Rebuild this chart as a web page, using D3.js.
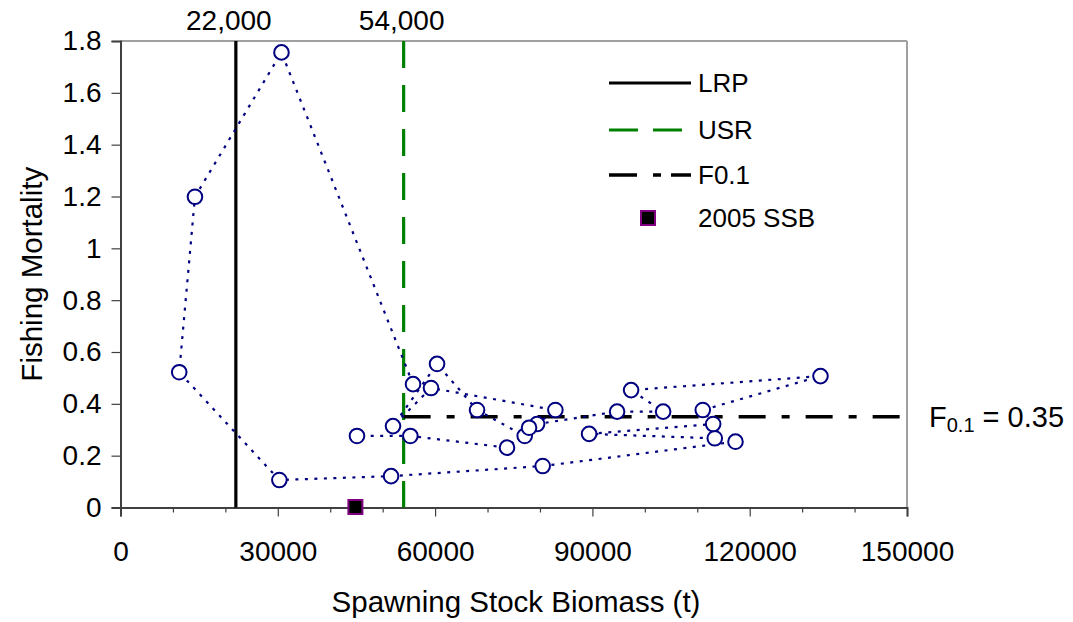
<!DOCTYPE html>
<html>
<head>
<meta charset="utf-8">
<script src="https://cdn.jsdelivr.net/npm/d3@7"></script>
<style>
  html, body { margin: 0; padding: 0; background: #fff; }
  svg { display: block; font-family: "Liberation Sans", Arial, sans-serif; }
</style>
</head>
<body>
<svg id="chart" width="1073" height="622"></svg>
<script>
// ---- Data ----
const years = [1978,1979,1980,1981,1982,1983,1984,1985,1986,1987,1988,1989,1990,1991,1992,1993,1994,1995,1996,1997,1998,1999,2000,2001,2002,2003,2004];
const ssb   = [55790,30700,14200,11200,30300,51600,80520,117290,113340,89370,113030,111050,133500,97380,103490,94710,79450,82940,59220,51970,60370,68000,77090,77920,73720,55280,45100];
const fMort = [0.476,1.756,1.199,0.522,0.106,0.121,0.160,0.254,0.267,0.284,0.322,0.376,0.507,0.453,0.370,0.370,0.322,0.376,0.461,0.314,0.554,0.376,0.276,0.308,0.231,0.276,0.276];
const ssb2005 = [44800];
const f2005 = [0];
const LRP = 22000;
const USR = 54000;
const F01 = 0.35;
const xTicks = [0, 30000, 60000, 90000, 120000, 150000];
const xMinorTicks = [10000,20000,40000,50000,70000,80000,100000,110000,130000,140000];
const yTicks = [0, 0.2, 0.4, 0.6, 0.8, 1, 1.2, 1.4, 1.6, 1.8];
const refLabels = ["22,000", "54,000"];
const legendItems = ["LRP", "USR", "F0.1", "2005 SSB"];

(function () {
// ---- Layout ----
const svg = d3.select("#chart");
const pL = 120.5, pR = 907, pT = 41, pB = 507.5;
const x = d3.scaleLinear().domain([0, 150000]).range([pL, pR]);
const y = d3.scaleLinear().domain([0, 1.8]).range([pB, pT]);
const navy = "#000080";
const FS = 28;

// frame (top & right light gray)
svg.append("line").attr("x1", pL).attr("x2", pR).attr("y1", pT).attr("y2", pT)
  .attr("stroke", "#a0a0a0").attr("stroke-width", 2);
svg.append("line").attr("x1", pR).attr("x2", pR).attr("y1", pT).attr("y2", pB)
  .attr("stroke", "#a0a0a0").attr("stroke-width", 2);

// y axis
const yAxis = d3.axisLeft(y).tickValues(yTicks).tickSize(9).tickPadding(10)
  .tickFormat(d => String(+d.toFixed(1)));
const gy = svg.append("g").attr("transform", `translate(${pL},0)`).call(yAxis);
gy.select(".domain").attr("stroke", "#404040").attr("stroke-width", 2);
gy.selectAll(".tick line").attr("stroke", "#404040").attr("stroke-width", 1.2);
gy.selectAll(".tick text").attr("font-size", FS).attr("fill", "#000")
  .attr("font-family", "Liberation Sans, Arial, sans-serif");

// x axis
const xAxis = d3.axisBottom(x).tickValues(xTicks).tickSize(9).tickPadding(25)
  .tickFormat(d3.format("d"));
const gx = svg.append("g").attr("transform", `translate(0,${pB})`).call(xAxis);
gx.select(".domain").attr("stroke", "#404040").attr("stroke-width", 2);
gx.selectAll(".tick line").attr("stroke", "#404040").attr("stroke-width", 1.2);
gx.selectAll(".tick text").attr("font-size", FS).attr("fill", "#000")
  .attr("font-family", "Liberation Sans, Arial, sans-serif");
const xMinor = d3.axisBottom(x).tickValues(xMinorTicks).tickSize(5).tickFormat("");
const gxm = svg.append("g").attr("transform", `translate(0,${pB})`).call(xMinor);
gxm.select(".domain").remove();
gxm.selectAll(".tick line").attr("stroke", "#404040").attr("stroke-width", 1.2);

// axis titles
svg.append("text").attr("x", 516).attr("y", 612)
  .attr("text-anchor", "middle").attr("font-size", 29.5).text("Spawning Stock Biomass (t)");
svg.append("text").attr("transform", `translate(42,${(pT + pB) / 2}) rotate(-90)`)
  .attr("text-anchor", "middle").attr("font-size", 29.5).text("Fishing Mortality");

// reference lines
svg.append("line").attr("x1", x(LRP)).attr("x2", x(LRP)).attr("y1", pT).attr("y2", pB)
  .attr("stroke", "#000").attr("stroke-width", 3.2);
svg.append("line").attr("x1", x(USR)).attr("x2", x(USR)).attr("y1", pT).attr("y2", pB)
  .attr("stroke", "#008000").attr("stroke-width", 3.2).attr("stroke-dasharray", "27,17");
svg.append("line").attr("x1", x(USR)).attr("x2", pR).attr("y1", y(F01)).attr("y2", y(F01))
  .attr("stroke", "#000").attr("stroke-width", 3.5).attr("stroke-dasharray", "27,16,8,16");

// reference labels on top
[LRP, USR].forEach((v, i) => {
  svg.append("text").attr("x", x(v) - (i === 0 ? 7 : 2)).attr("y", 30)
    .attr("text-anchor", "middle").attr("font-size", FS).text(refLabels[i]);
});

// F0.1 label
const fl = svg.append("text").attr("x", 929).attr("y", y(F01) + 10).attr("font-size", 29);
fl.append("tspan").text("F");
fl.append("tspan").attr("font-size", 20).attr("dy", 5).text("0.1");
fl.append("tspan").attr("dy", -5).text(" = 0.35");

// trajectory
const pts = years.map((yr, i) => ({ yr, s: ssb[i], f: fMort[i] }));
svg.append("path").datum(pts)
  .attr("d", d3.line().x(d => x(d.s)).y(d => y(d.f)))
  .attr("fill", "none").attr("stroke", navy).attr("stroke-width", 2.2)
  .attr("stroke-dasharray", "3,6.5");
svg.selectAll("circle.pt").data(pts).enter().append("circle").attr("class", "pt")
  .attr("cx", d => x(d.s)).attr("cy", d => y(d.f)).attr("r", 7.3)
  .attr("fill", "#fff").attr("stroke", navy).attr("stroke-width", 2);

// 2005 SSB square
svg.selectAll("rect.ssb").data(ssb2005).enter().append("rect").attr("class", "ssb")
  .attr("x", (d) => x(d) - 7).attr("y", (d, i) => y(f2005[i]) - 7.5)
  .attr("width", 14).attr("height", 14)
  .attr("fill", "#000").attr("stroke", "#800080").attr("stroke-width", 2);

// legend
const lx1 = 609, lx2 = 691, ltx = 698;
const ly = [83, 130, 175, 218];
const lg = svg.append("g");
lg.append("line").attr("x1", lx1).attr("x2", lx2).attr("y1", ly[0]).attr("y2", ly[0])
  .attr("stroke", "#000").attr("stroke-width", 3);
lg.append("line").attr("x1", lx1).attr("x2", lx2).attr("y1", ly[1]).attr("y2", ly[1])
  .attr("stroke", "#008000").attr("stroke-width", 3).attr("stroke-dasharray", "29,15");
lg.append("line").attr("x1", lx1).attr("x2", lx2).attr("y1", ly[2]).attr("y2", ly[2])
  .attr("stroke", "#000").attr("stroke-width", 3.5).attr("stroke-dasharray", "28,16,8,10,21");
lg.append("rect").attr("x", 648 - 7).attr("y", ly[3] - 7).attr("width", 14).attr("height", 14)
  .attr("fill", "#000").attr("stroke", "#800080").attr("stroke-width", 2);
legendItems.forEach((t, i) => {
  lg.append("text").attr("x", ltx).attr("y", ly[i] + 9).attr("font-size", 26).text(t);
});
})();
</script>
</body>
</html>
